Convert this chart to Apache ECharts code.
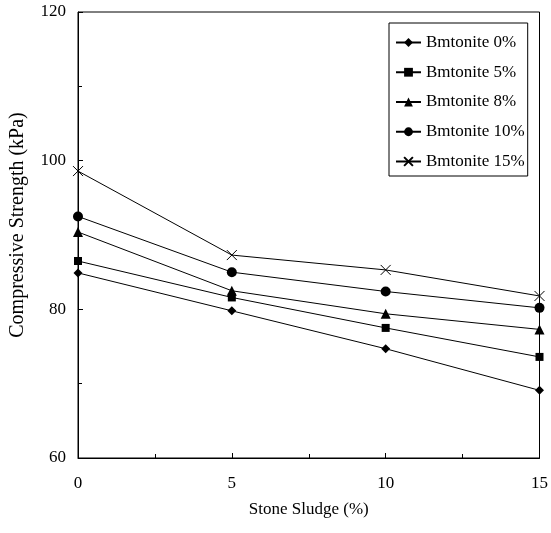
<!DOCTYPE html>
<html>
<head>
<meta charset="utf-8">
<script src="https://cdn.jsdelivr.net/npm/echarts@6/dist/echarts.min.js"></script>
<style>html,body{margin:0;padding:0;background:#fff;}#c{width:551px;height:533px;}</style>
</head>
<body>
<div id="c"></div>
<script>
const xValues = [0, 5, 10, 15];
const seriesNames = ['Bmtonite 0%', 'Bmtonite 5%', 'Bmtonite 8%', 'Bmtonite 10%', 'Bmtonite 15%'];
const bent0 = [84.9, 79.8, 74.7, 69.1];
const bent5 = [86.5, 81.6, 77.5, 73.6];
const bent8 = [90.4, 82.5, 79.4, 77.3];
const bent10 = [92.5, 85.0, 82.4, 80.2];
const bent15 = [98.6, 87.3, 85.3, 81.8];
const seriesValues = [bent0, bent5, bent8, bent10, bent15];
const symbols = ['diamond', 'rect', 'triangle', 'circle', 'path://M0,0L10,10M10,0L0,10'];
const symbolSizes = [9, 8, 10, 10, 10];

const font = 'Liberation Serif';
const chart = echarts.init(document.getElementById('c'), null, {renderer: 'canvas'});
const series = seriesNames.map((name, i) => ({
  name: name,
  type: 'line',
  data: xValues.map((x, j) => [x, seriesValues[i][j]]),
  symbol: symbols[i],
  symbolSize: symbolSizes[i],
  showSymbol: true,
  lineStyle: {color: '#000', width: 1},
  itemStyle: i === 4 ? {color: 'transparent', borderColor: '#000', borderWidth: 1} : {color: '#000', borderWidth: 0},
  emphasis: {disabled: true},
  animation: false
}));

chart.setOption({
  animation: false,
  backgroundColor: '#fff',
  grid: {left: 77, right: 10, top: 12, bottom: 75, show: true, borderColor: '#000', borderWidth: 1, backgroundColor: 'transparent'},
  xAxis: {
    type: 'value', min: 0, max: 15, interval: 5,
    name: 'Stone Sludge (%)', nameLocation: 'middle', nameGap: 43,
    nameTextStyle: {fontFamily: font, fontSize: 17, color: '#000'},
    axisLine: {show: true, lineStyle: {color: '#000', width: 1}},
    axisTick: {show: true, inside: true, length: 5, lineStyle: {color: '#000'}},
    minorTick: {show: true, splitNumber: 2, length: 4, lineStyle: {color: '#000'}},
    axisLabel: {fontFamily: font, fontSize: 17, color: '#000', margin: 17},
    splitLine: {show: false}
  },
  yAxis: {
    type: 'value', min: 60, max: 120, interval: 20,
    name: 'Compressive Strength (kPa)', nameLocation: 'middle', nameGap: 50,
    nameTextStyle: {fontFamily: font, fontSize: 20, color: '#000', padding: [0, 0, 0, 20]},
    axisLine: {show: true, lineStyle: {color: '#000', width: 1}},
    axisTick: {show: true, inside: true, length: 5, lineStyle: {color: '#000'}},
    minorTick: {show: true, splitNumber: 2, length: 4, lineStyle: {color: '#000'}},
    axisLabel: {fontFamily: font, fontSize: 17, color: '#000', margin: 12},
    splitLine: {show: false}
  },
  legend: {
    show: true, orient: 'vertical', left: 389, top: 23,
    padding: [11, 3, 6, 6], itemGap: 12.75, itemWidth: 25, itemHeight: 11,
    backgroundColor: '#fff', borderColor: '#000', borderWidth: 1,
    textStyle: {fontFamily: font, fontSize: 17, color: '#000', lineHeight: 17},
    data: seriesNames
  },
  series: series
});
</script>
</body>
</html>
